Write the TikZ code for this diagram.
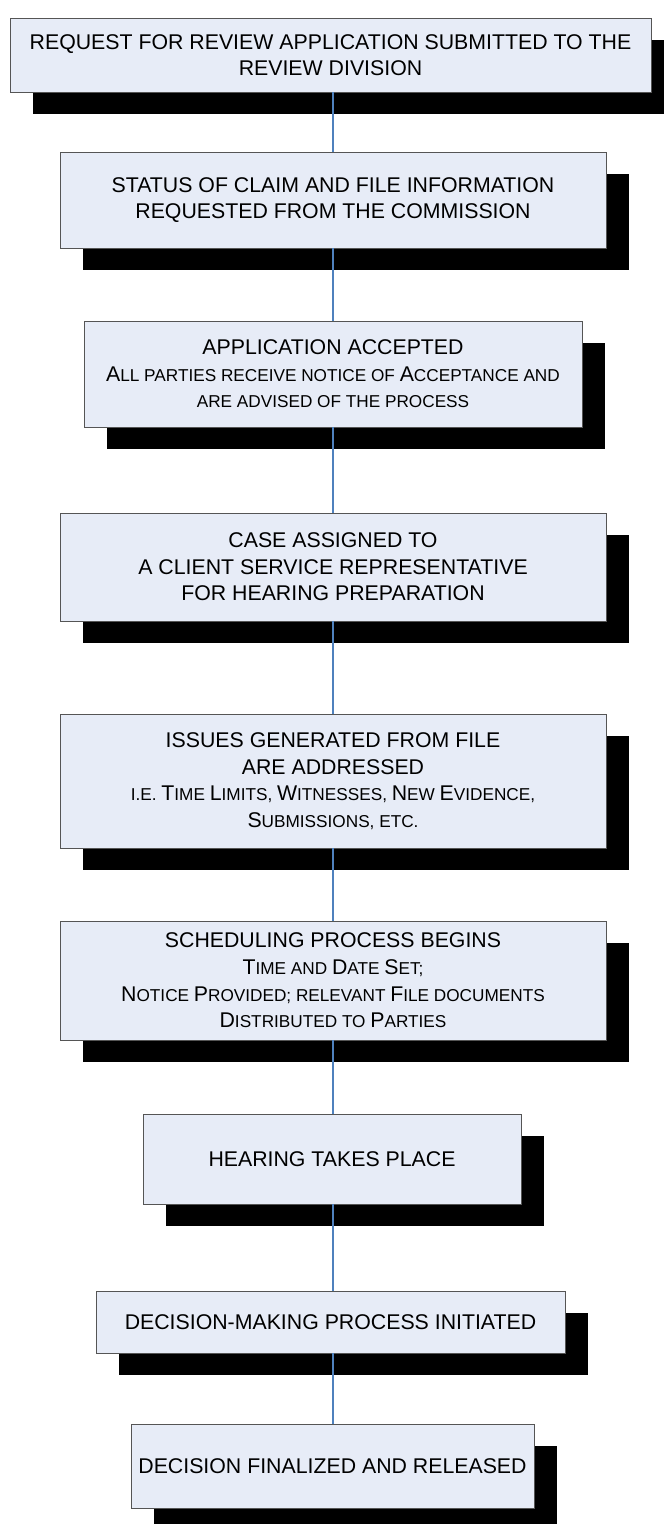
\documentclass[tikz,border=0pt]{standalone}
\usepackage{fontspec}
\setmainfont{Liberation Sans}
\usetikzlibrary{shadows}
\definecolor{boxfill}{RGB}{231,236,247}
\definecolor{boxline}{RGB}{85,85,85}
\definecolor{linkblue}{RGB}{79,129,189}
% reduced capitals for the small-caps lines
\newcommand\Sm[1]{{\fontsize{17.2}{26}\selectfont #1}}
\begin{document}
\begin{tikzpicture}[x=1pt,y=-1pt,
  stage/.style={draw=boxline, line width=0.9pt, fill=boxfill, align=center, inner sep=0pt,
    font=\fontsize{21.3}{26.6}\selectfont,
    drop shadow={shadow xshift=22.5pt, shadow yshift=-21.5pt, fill=black, opacity=1}},
  link/.style={draw=linkblue, line width=1.6pt}]
\useasboundingbox (0,0) rectangle (664,1524);
\coordinate (axis) at (333,0);

\node[stage, minimum width=641pt, minimum height=74pt] (b1) at (330.5,55)
  {REQUEST FOR REVIEW APPLICATION SUBMITTED TO THE\\REVIEW DIVISION};
\node[stage, minimum width=546pt, minimum height=96pt] (b2) at (333,200)
  {STATUS OF CLAIM AND FILE INFORMATION\\REQUESTED FROM THE COMMISSION};
\node[stage, minimum width=498pt, minimum height=106pt] (b3) at (333,374)
  {APPLICATION ACCEPTED\\
   A\Sm{LL PARTIES RECEIVE NOTICE OF }A\Sm{CCEPTANCE AND}\\
   \Sm{ARE ADVISED OF THE PROCESS}};
\node[stage, minimum width=546pt, minimum height=108pt] (b4) at (333,567)
  {CASE ASSIGNED TO\\A CLIENT SERVICE REPRESENTATIVE\\FOR HEARING PREPARATION};
\node[stage, minimum width=546pt, minimum height=134pt] (b5) at (333,781)
  {ISSUES GENERATED FROM FILE\\ARE ADDRESSED\\
   \Sm{I.E. }T\Sm{IME }L\Sm{IMITS, }W\Sm{ITNESSES, }N\Sm{EW }E\Sm{VIDENCE,}\\
   S\Sm{UBMISSIONS, ETC.}};
\node[stage, minimum width=546pt, minimum height=119pt] (b6) at (333,980.5)
  {SCHEDULING PROCESS BEGINS\\
   T\Sm{IME AND }D\Sm{ATE }S\Sm{ET;}\\
   N\Sm{OTICE }P\Sm{ROVIDED; RELEVANT }F\Sm{ILE DOCUMENTS}\\
   D\Sm{ISTRIBUTED TO }P\Sm{ARTIES}};
\node[stage, minimum width=378pt, minimum height=90pt] (b7) at (332,1159)
  {HEARING TAKES PLACE};
\node[stage, minimum width=469pt, minimum height=62pt] (b8) at (330.5,1322)
  {DECISION-MAKING PROCESS INITIATED};
\node[stage, minimum width=403pt, minimum height=84pt] (b9) at (332.5,1466)
  {DECISION FINALIZED AND RELEASED};

\foreach \a/\b in {b1/b2,b2/b3,b3/b4,b4/b5,b5/b6,b6/b7,b7/b8,b8/b9}
  \draw[link] (\a.south -| axis) -- (\b.north -| axis);
\end{tikzpicture}
\end{document}
